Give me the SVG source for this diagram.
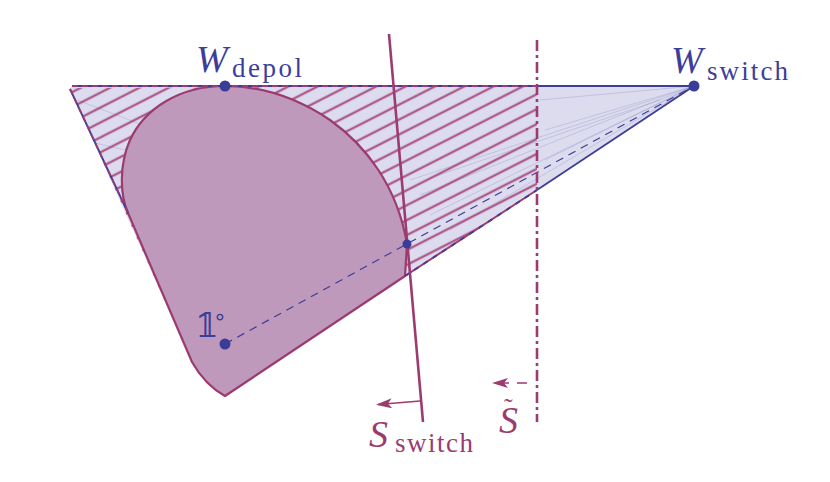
<svg xmlns="http://www.w3.org/2000/svg" width="830" height="482" viewBox="0 0 830 482">
<style>
.blue{stroke:#3d3d9a;fill:none}
.mar{stroke:#9b3b6f;fill:none}
.faint{stroke:#5a5ab0;stroke-width:0.8;opacity:0.25;fill:none}
.it{font-family:"Liberation Serif","DejaVu Serif",serif;font-style:italic}
.up{font-family:"Liberation Serif","DejaVu Serif",serif}
.lblue{fill:#3d3d9a}
.lmar{fill:#9b3b6f}
.dot{fill:#3b3b98}
</style>
<defs>
<pattern id="hatch" patternUnits="userSpaceOnUse" width="40" height="13.3" patternTransform="translate(0,2) rotate(-27)">
<line x1="-2" y1="6.65" x2="42" y2="6.65" stroke="#a3447a" stroke-width="2.6"/>
</pattern>
<marker id="ah" viewBox="0 0 16 10" refX="14" refY="5" markerWidth="16" markerHeight="10" markerUnits="userSpaceOnUse" orient="auto">
<path d="M16,5 L0,0 L4,5 L0,10 Z" fill="#9b3b6f"/>
</marker>
</defs>

<g id="region">
<path d="M72,86 L694,86 L225,396 Q205,385 192,362 L70,89 Z" fill="#dcdcee"/>
<g id="faint-lines">
<line class="faint" x1="77" y1="100" x2="140" y2="124"/>
<line class="faint" x1="95" y1="143" x2="125" y2="150"/>
<line class="faint" x1="694" y1="86" x2="410" y2="180"/>
<line class="faint" x1="694" y1="86" x2="420" y2="195"/>
<line class="faint" x1="694" y1="86" x2="430" y2="215"/>
<line class="faint" x1="694" y1="86" x2="450" y2="230"/>
<line class="faint" x1="694" y1="86" x2="540" y2="100"/>
<line class="faint" x1="694" y1="86" x2="545" y2="130"/>
<line class="faint" x1="694" y1="86" x2="545" y2="160"/>
<line class="faint" x1="660" y1="100" x2="430" y2="178"/>
</g>
<path id="hatching" d="M70,88 L537,86 L537,190 L225,396 Q205,385 192,362 Z" fill="url(#hatch)" opacity="0.85"/>
</g>

<g id="blob">
<path d="M225,396 Q205,385 192,362 L128,213 C120,195 119,165 130,140 C145,108 180,86 225,86 C265,86 300,100 330,120 C365,145 397,185 407,244 L405,276 Z" fill="#bf99bb" stroke="#9b3b6f" stroke-width="2.2" stroke-linejoin="round"/>
</g>

<g id="connectors">
<line class="blue" x1="72" y1="86" x2="694" y2="86" stroke-width="1.8"/>
<line class="mar" x1="72" y1="86" x2="537" y2="86" stroke-width="1.8" stroke-dasharray="6 4"/>
<line class="blue" x1="70" y1="89" x2="128" y2="213" stroke-width="1.8"/>
<line class="mar" x1="70" y1="89" x2="128" y2="213" stroke-width="1.8" stroke-dasharray="6 4"/>
<line class="mar" x1="405" y1="276" x2="537" y2="190" stroke-width="2"/>
<line class="blue" x1="405" y1="276" x2="537" y2="190" stroke-width="1.8" stroke-dasharray="5 6"/>
<line class="blue" x1="537" y1="190" x2="694" y2="86" stroke-width="1.8"/>
<line class="blue" x1="225" y1="344" x2="694" y2="86" stroke-width="1.2" stroke-dasharray="8 6"/>
<line class="mar" x1="389" y1="34" x2="423" y2="422" stroke-width="2.6"/>
<line class="mar" x1="537" y1="40" x2="537" y2="422" stroke-width="2.6" stroke-dasharray="11 4 3 4"/>
<line class="mar" x1="420" y1="401" x2="378" y2="404.5" stroke-width="1.6" marker-end="url(#ah)"/>
<line class="mar" x1="527" y1="383" x2="494" y2="383" stroke-width="1.6" stroke-dasharray="10 8" marker-end="url(#ah)"/>
</g>

<g id="W_depol">
<circle class="dot" cx="225" cy="86" r="5.5"/>
<text class="it lblue" x="196" y="72" font-size="38">W</text>
<text class="up lblue" x="232" y="77" font-size="27" textLength="70">depol</text>
</g>
<g id="W_switch">
<circle class="dot" cx="694" cy="86" r="5.5"/>
<text class="it lblue" x="671" y="73" font-size="38">W</text>
<text class="up lblue" x="707" y="80" font-size="27" textLength="81">switch</text>
</g>
<g id="one">
<circle class="dot" cx="225" cy="344" r="5.5"/>
<text class="lblue" x="195" y="337" font-size="34" font-family="DejaVu Serif, DejaVu Sans, serif">𝟙</text>
<text class="lblue" x="213" y="324" font-size="22" font-family="DejaVu Sans, sans-serif">∘</text>
</g>
<g id="intersection">
<circle class="dot" cx="407" cy="244" r="4.5"/>
</g>
<g id="S_switch">
<text class="it lmar" x="369" y="447" font-size="38">S</text>
<text class="up lmar" x="395" y="452" font-size="27" textLength="78">switch</text>
</g>
<g id="S_tilde">
<text class="it lmar" x="499" y="433" font-size="38">S</text>
<text class="up lmar" x="504" y="416" font-size="26">˜</text>
</g>
</svg>
